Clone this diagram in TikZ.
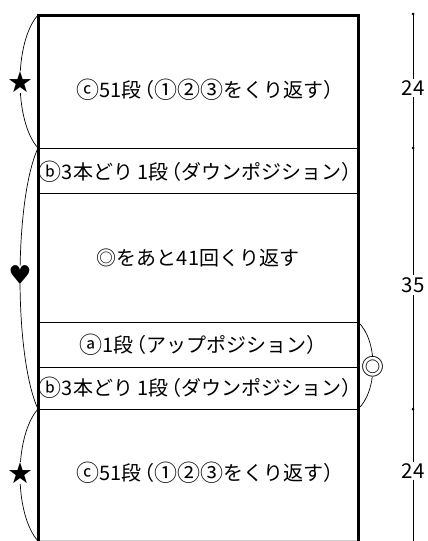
\documentclass[tikz,border=0pt]{standalone}
\usepackage{fontspec}
\setmainfont{Noto Sans CJK JP}
\newfontfamily\symfont{DejaVu Sans}
\newcommand\kkL{\hspace{-0.38em}（}
\newcommand\kkR{）\hspace{-0.38em}}
\newcommand\cir[1]{\raisebox{-0.07em}{\scalebox{1.15}{#1}}}
\begin{document}
\begin{tikzpicture}[x=1pt,y=-1pt,
  thickline/.style={line width=3pt,line cap=rect},
  thinline/.style={line width=0.9pt},
  braceline/.style={line width=0.7pt},
  lbl/.style={font=\fontsize{20}{24}\selectfont,inner sep=0pt,anchor=center},
  sym/.style={font=\symfont\fontsize{29}{30}\selectfont,fill=white,inner sep=0pt},
  dimlbl/.style={font=\fontsize{20.5}{24}\selectfont,fill=white,inner sep=2pt},
  dot/.style={circle,fill=black,inner sep=0pt,minimum size=3pt}]
\useasboundingbox (0,0) rectangle (428,541);
% coordinates of the band
\coordinate (TL) at (38,15);
\coordinate (TR) at (358,15);
\coordinate (BL) at (38,541);
\coordinate (BR) at (358,541);
\coordinate (L1) at (38,148); \coordinate (R1) at (358,148);
\coordinate (L2) at (38,193); \coordinate (R2) at (358,193);
\coordinate (L3) at (38,322); \coordinate (R3) at (358,322);
\coordinate (L4) at (38,367); \coordinate (R4) at (358,367);
\coordinate (L5) at (38,409); \coordinate (R5) at (358,409);
\coordinate (L6) at (38,540); \coordinate (R6) at (358,540);
% thin divisions
\draw[thinline] (L1) -- (R1);
\draw[thinline] (L2) -- (R2);
\draw[thinline] (L3) -- (R3);
\draw[thinline] (L4) -- (R4);
\draw[thinline] (L5) -- (R5);
\draw[line width=0.8pt,black!20] (L6) -- (R6);
% thick outline
\draw[thickline] (BL) -- (TL) -- (TR) -- (BR);
% texts
\node[lbl] (c1) at (210,90) {\cir{ⓒ}51段\kkL\cir{①}\cir{②}\cir{③}をくり返す\kkR};
\node[lbl] (b1) at (200,172) {\cir{ⓑ}3本どり 1段\kkL ダウンポジション\kkR};
\node[lbl] (rep) at (198,258) {◎をあと41回くり返す};
\node[lbl] (a1) at (203,345) {\cir{ⓐ}1段\kkL アップポジション\kkR};
\node[lbl] (b2) at (200,388) {\cir{ⓑ}3本どり 1段\kkL ダウンポジション\kkR};
\node[lbl] (c2) at (210,473) {\cir{ⓒ}51段\kkL\cir{①}\cir{②}\cir{③}をくり返す\kkR};
% left braces
\draw[braceline] (TL) .. controls (14,42) and (14,121) .. (L1);
\draw[braceline] (L1) .. controls (14,200) and (14,357) .. (L5);
\draw[braceline] (L5) .. controls (14,436) and (14,514) .. (BL);
\node[sym] (s1) at (20,82) {★};
\node[sym,font=\symfont\fontsize{26}{28}\selectfont] (h1) at (20,275) {♥};
\node[sym] (s2) at (20,473) {★};
% right brace
\draw[braceline] (R3) .. controls (378,340) and (378,391) .. (R5);
\node[font=\fontsize{23}{24}\selectfont,fill=white,inner sep=0pt] (dc) at (373,367) {◎};
% dimension line
\coordinate (D0) at (413,14);
\coordinate (D3) at (413,541);
\draw[thinline] (D0) -- (D3);
\node[dot] (d0) at (413,14) {};
\node[dot] (d1) at (413,148) {};
\node[dot] (d2) at (413,409) {};
\node[dimlbl] (n1) at (413,88) {24};
\node[dimlbl] (n2) at (413,285) {35};
\node[dimlbl] (n3) at (413,471) {24};
\end{tikzpicture}
\end{document}
